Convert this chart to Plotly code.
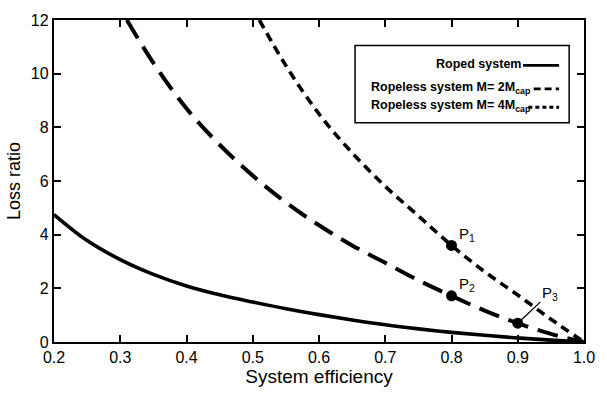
import plotly.graph_objects as go

eff_roped = [0.2, 0.25, 0.3, 0.35, 0.4, 0.45, 0.5, 0.55, 0.6, 0.65, 0.7, 0.75, 0.8, 0.85, 0.9, 0.95, 1.0]
loss_roped = [4.75, 3.78, 3.07, 2.52, 2.09, 1.76, 1.49, 1.24, 1.02, 0.82, 0.64, 0.49, 0.36, 0.25, 0.15, 0.07, 0.0]

eff_m2 = [0.31, 0.35, 0.4, 0.45, 0.5, 0.55, 0.6, 0.65, 0.7, 0.75, 0.8, 0.85, 0.9, 0.95, 1.0]
loss_m2 = [12.0, 10.4, 8.7, 7.35, 6.2, 5.2, 4.35, 3.6, 2.95, 2.3, 1.72, 1.17, 0.7, 0.3, 0.0]

eff_m4 = [0.51, 0.55, 0.6, 0.65, 0.7, 0.75, 0.8, 0.85, 0.9, 0.95, 1.0]
loss_m4 = [12.0, 10.3, 8.5, 7.05, 5.8, 4.7, 3.6, 2.62, 1.75, 0.85, 0.0]

pt_names = ["P<sub>1</sub>", "P<sub>2</sub>", "P<sub>3</sub>"]
pt_eff = [0.8, 0.8, 0.9]
pt_loss = [3.6, 1.72, 0.7]

x_ticks = [0.2, 0.3, 0.4, 0.5, 0.6, 0.7, 0.8, 0.9, 1.0]
x_tick_text = ["0.2", "0.3", "0.4", "0.5", "0.6", "0.7", "0.8", "0.9", "1.0"]
y_ticks = [0, 2, 4, 6, 8, 10, 12]

leg_labels = ["<b>Roped system</b>", "<b>Ropeless system M= 2M<sub>cap</sub></b>", "<b>Ropeless system M= 4M<sub>cap</sub></b>"]

FONT = "Liberation Sans, Arial, sans-serif"

fig = go.Figure()
fig.add_trace(go.Scatter(x=eff_roped, y=loss_roped, mode="lines",
                         line=dict(color="black", width=3.6, shape="spline"),
                         name="Roped system", showlegend=False))
fig.add_trace(go.Scatter(x=eff_m2, y=loss_m2, mode="lines",
                         line=dict(color="black", width=4, shape="spline", dash="21px,10px"),
                         name="Ropeless system M= 2Mcap", showlegend=False))
fig.add_trace(go.Scatter(x=eff_m4, y=loss_m4, mode="lines",
                         line=dict(color="black", width=3.6, shape="spline", dash="9px,6px"),
                         name="Ropeless system M= 4Mcap", showlegend=False))
fig.add_trace(go.Scatter(x=pt_eff, y=pt_loss, mode="markers",
                         marker=dict(color="black", size=11),
                         showlegend=False))

# point labels
fig.add_annotation(x=pt_eff[0], y=pt_loss[0], text=pt_names[0], showarrow=False,
                   xshift=15, yshift=11, font=dict(family=FONT, size=15, color="black"))
fig.add_annotation(x=pt_eff[1], y=pt_loss[1], text=pt_names[1], showarrow=False,
                   xshift=15, yshift=11, font=dict(family=FONT, size=15, color="black"))
fig.add_annotation(x=pt_eff[2], y=pt_loss[2], text=pt_names[2], showarrow=True,
                   arrowhead=0, arrowwidth=1.3, arrowcolor="black",
                   ax=32, ay=-30, standoff=4,
                   font=dict(family=FONT, size=15, color="black"))

# custom legend (right-aligned text, sample line on the right)
fig.add_shape(type="rect", xref="paper", yref="paper", x0=0.568, x1=0.972, y0=0.681, y1=0.921,
              line=dict(color="black", width=1.5), fillcolor="white", layer="above")
leg_dash = ["solid", "7px,4px", "4px,3px"]
leg_ys = [0.863, 0.790, 0.733]
leg_text_x = [0.885, 0.902, 0.902]
leg_line_x0 = [0.885, 0.905, 0.895]
for lab, d, yy, tx, lx in zip(leg_labels, leg_dash, leg_ys, leg_text_x, leg_line_x0):
    fig.add_annotation(xref="paper", yref="paper", x=tx, y=yy, text=lab,
                       showarrow=False, xanchor="right", yanchor="middle",
                       font=dict(family=FONT, size=12.5, color="black"))
    fig.add_shape(type="line", xref="paper", yref="paper", x0=lx, x1=0.953, y0=yy - 0.004, y1=yy - 0.004,
                  line=dict(color="black", width=2.8, dash=d), layer="above")

fig.update_layout(
    width=607, height=397,
    margin=dict(l=50, r=20, t=13, b=55),
    paper_bgcolor="white", plot_bgcolor="white",
    font=dict(family=FONT, color="black"),
    xaxis=dict(range=[0.2, 1.0], tickvals=x_ticks, ticktext=x_tick_text,
               ticks="inside", ticklen=7, tickwidth=1.5, tickcolor="black",
               showline=True, linecolor="black", linewidth=2.4, mirror="ticks",
               showgrid=False, zeroline=False,
               tickfont=dict(family=FONT, size=16, color="black"),
               title=dict(text="System efficiency", font=dict(family=FONT, size=19, color="black"), standoff=0)),
    yaxis=dict(range=[0, 12], tickvals=y_ticks,
               ticks="inside", ticklen=7, tickwidth=1.5, tickcolor="black",
               showline=True, linecolor="black", linewidth=2.4, mirror="ticks",
               showgrid=False, zeroline=False,
               tickfont=dict(family=FONT, size=16, color="black"),
               title=dict(text="Loss ratio", font=dict(family=FONT, size=18, color="black"), standoff=6)),
)

fig.write_html("out.html")
